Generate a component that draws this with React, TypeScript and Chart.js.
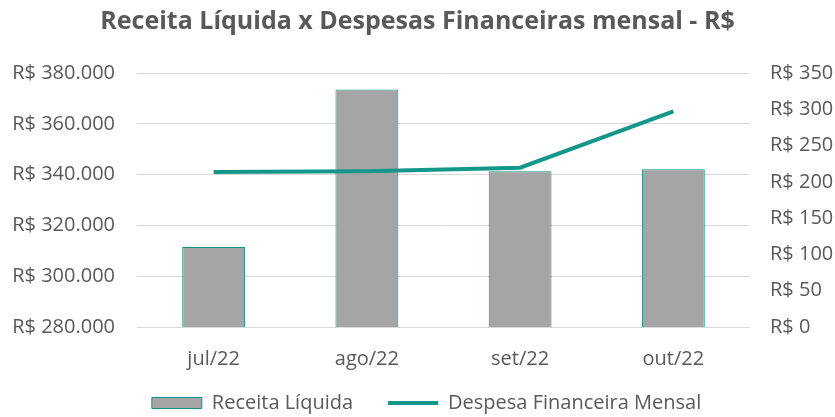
import React, { useEffect, useRef } from "react";
import { Chart, registerables } from "chart.js";

Chart.register(...registerables);

const categories = ["jul/22", "ago/22", "set/22", "out/22"];
const receitaLiquida = [311500, 373500, 341300, 342100];
const despesaFinanceira = [213.5, 214.5, 219.5, 297];
const leftTicks = [280000, 300000, 320000, 340000, 360000, 380000];
const rightTicks = [0, 50, 100, 150, 200, 250, 300, 350];

const TEAL = "#15968A";
const GRAY = "#A5A5A5";
const TEXT = "#595959";
const FONT = "'Open Sans', 'Noto Sans', sans-serif";

function fmt(v: number): string {
  const s = Math.round(v).toString();
  return "R$ " + s.replace(/\B(?=(\d{3})+(?!\d))/g, ".");
}

const adjustLayout = {
  id: "adjustLayout",
  afterLayout(chart: any) {
    const l = chart.legend;
    if (l) {
      l.top += 6;
      l.bottom += 6;
      l.left += 9;
      l.right += 9;
    }
    const x = chart.scales && chart.scales.x;
    if (x) {
      x.bottom += 30;
    }
  },
};

export default function App() {
  const ref = useRef<HTMLCanvasElement | null>(null);
  useEffect(() => {
    if (!ref.current) return;
    const chart = new Chart(ref.current, {
      type: "bar",
      data: {
        labels: categories,
        datasets: [
          {
            type: "line",
            label: "Despesa Financeira Mensal",
            data: despesaFinanceira,
            borderColor: TEAL,
            backgroundColor: TEAL,
            borderWidth: 4,
            pointRadius: 0,
            pointStyle: "line",
            tension: 0,
            yAxisID: "y1",
            order: 0,
          } as any,
          {
            type: "bar",
            label: "Receita Líquida",
            data: receitaLiquida,
            backgroundColor: GRAY,
            borderColor: TEAL,
            borderWidth: 1,
            pointStyle: "rect",
            categoryPercentage: 1,
            barPercentage: 0.41,
            yAxisID: "y",
            order: 1,
          } as any,
        ],
      },
      plugins: [adjustLayout],
      options: {
        responsive: false,
        animation: false,
        layout: { padding: 0 },
        plugins: {
          title: {
            display: true,
            text: "Receita Líquida x Despesas Financeiras mensal - R$",
            color: TEXT,
            font: { family: FONT, size: 25, weight: "bold" },
            padding: { top: 7, bottom: 36 },
          },
          legend: {
            position: "bottom",
            reverse: true,
            labels: {
              color: TEXT,
              font: { family: FONT, size: 20 },
              usePointStyle: true,
              pointStyleWidth: 50,
              boxHeight: 11,
              padding: 35,
            },
          },
          tooltip: { enabled: false },
        },
        scales: {
          x: {
            grid: { display: false },
            border: { display: false },
            ticks: { color: TEXT, font: { family: FONT, size: 20 }, padding: 12 },
            afterFit: (s: any) => { s.height = 25; },
          },
          y: {
            position: "left",
            min: 280000,
            max: 380000,
            afterBuildTicks: (s: any) => { s.ticks = leftTicks.map((v) => ({ value: v })); },
            grid: { color: "#D9D9D9", drawTicks: false },
            border: { display: false },
            ticks: {
              color: TEXT,
              font: { family: FONT, size: 20 },
              padding: 22,
              callback: (v: any) => fmt(Number(v)),
            },
            afterFit: (s: any) => { s.width = 137; },
          },
          y1: {
            position: "right",
            min: 0,
            max: 350,
            afterBuildTicks: (s: any) => { s.ticks = rightTicks.map((v) => ({ value: v })); },
            grid: { drawOnChartArea: false, drawTicks: false },
            border: { display: false },
            ticks: {
              color: TEXT,
              font: { family: FONT, size: 20 },
              padding: 20,
              callback: (v: any) => fmt(Number(v)),
            },
            afterFit: (s: any) => { s.width = 85; },
          },
        },
      },
    });
    return () => chart.destroy();
  }, []);
  return (
    <div style={{ position: "absolute", left: 0, top: 0, width: 835, height: 417, background: "#fff" }}>
      <canvas ref={ref} width={835} height={417} style={{ width: 835, height: 417 }} />
    </div>
  );
}
